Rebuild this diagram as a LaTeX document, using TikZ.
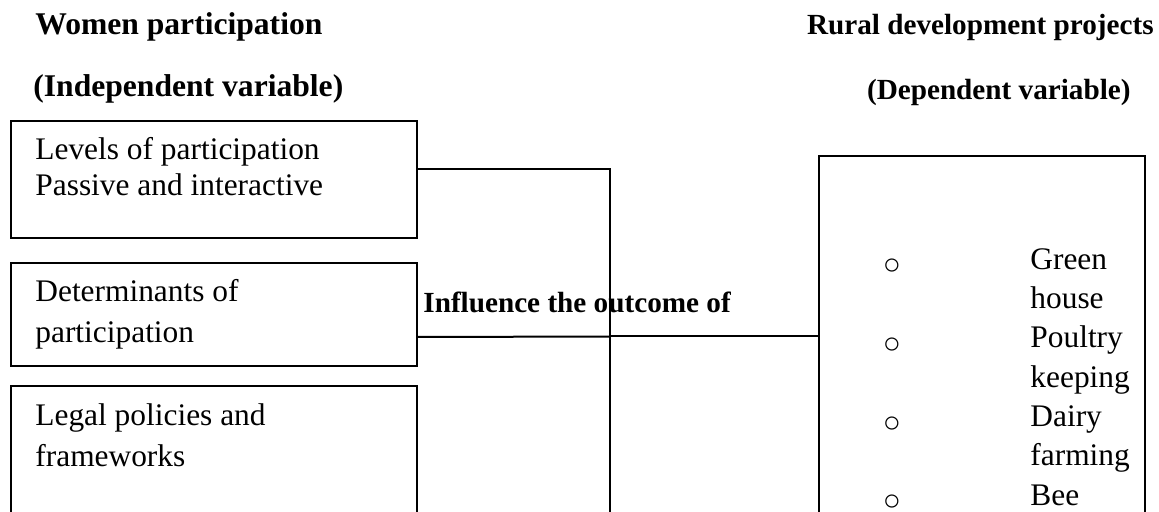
\documentclass[tikz,border=0pt]{standalone}
\usepackage{fontspec}
\setmainfont{Liberation Serif}
\usetikzlibrary{calc}

\tikzset{
  box/.style={draw,line width=1pt,anchor=north west,inner sep=0pt},
  head/.style={font=\fontsize{15.8}{19}\selectfont\bfseries,inner sep=0pt},
  subhead/.style={font=\fontsize{14.6}{18}\selectfont\bfseries,inner sep=0pt},
  body/.style={align=left,inner sep=0pt,anchor=base west},
  bullet/.style={font=\fontsize{15}{18}\selectfont,inner sep=0pt,anchor=base},
  link/.style={line width=1pt}
}

\begin{document}
\begin{tikzpicture}[x=0.5pt,y=-0.5pt]
  \clip (0,0) rectangle (1159,512);

  % headings
  \node[head,anchor=base west] (women) at (35,35) {Women participation};
  \node[head,anchor=base west] (indep) at (33,97) {(Independent variable)};
  \node[subhead,anchor=base east] (rural) at (1154,35) {Rural development projects};
  \node[subhead,anchor=base east] (dep) at (1131,100) {(Dependent variable)};

  % boxes on the left
  \node[box,minimum width=203pt,minimum height=58.5pt] (levels) at (9.5,120) {};
  \node[box,minimum width=203pt,minimum height=51.5pt] (determ) at (9.5,262) {};
  \node[box,minimum width=203pt,minimum height=80pt] (legal) at (9.5,385) {};
  \node[body,font=\fontsize{15.7}{18}\selectfont] (levtext) at (35,196)
    {Levels of participation\\Passive and interactive};
  \node[body,font=\fontsize{15.7}{20.5}\selectfont] (dettext) at (35,343)
    {Determinants of\\participation};
  \node[body,font=\fontsize{15.7}{20.5}\selectfont] (legtext) at (35,466)
    {Legal policies and\\frameworks};

  % box on the right
  \node[box,minimum width=163pt,minimum height=200pt] (projects) at (818,155) {};
  \node[body,font=\fontsize{15.7}{19.65}\selectfont] (projtext) at (1030,505)
    {Green\\house\\Poultry\\keeping\\Dairy\\farming\\Bee};
  \node[bullet] (b1) at (892,274.5) {○};
  \node[bullet] (b2) at (892,353.5) {○};
  \node[bullet] (b3) at (892,432.5) {○};
  \node[bullet] (b4) at (892,510.5) {○};

  \node[subhead,anchor=base west] (influence) at (423,313) {Influence the outcome of};

  % connectors
  \coordinate (jtop) at (610,169);
  \coordinate (jmid) at (610,336.5);
  \coordinate (jbot) at (610,520);
  \draw[link] (levels.east |- jtop) -- (jtop) -- (jbot);
  \draw[link] ($(determ.east)+(0,22.5)$) -- (jmid);
  \draw[link] (jmid) -- (projects.west |- jmid);
\end{tikzpicture}
\end{document}
